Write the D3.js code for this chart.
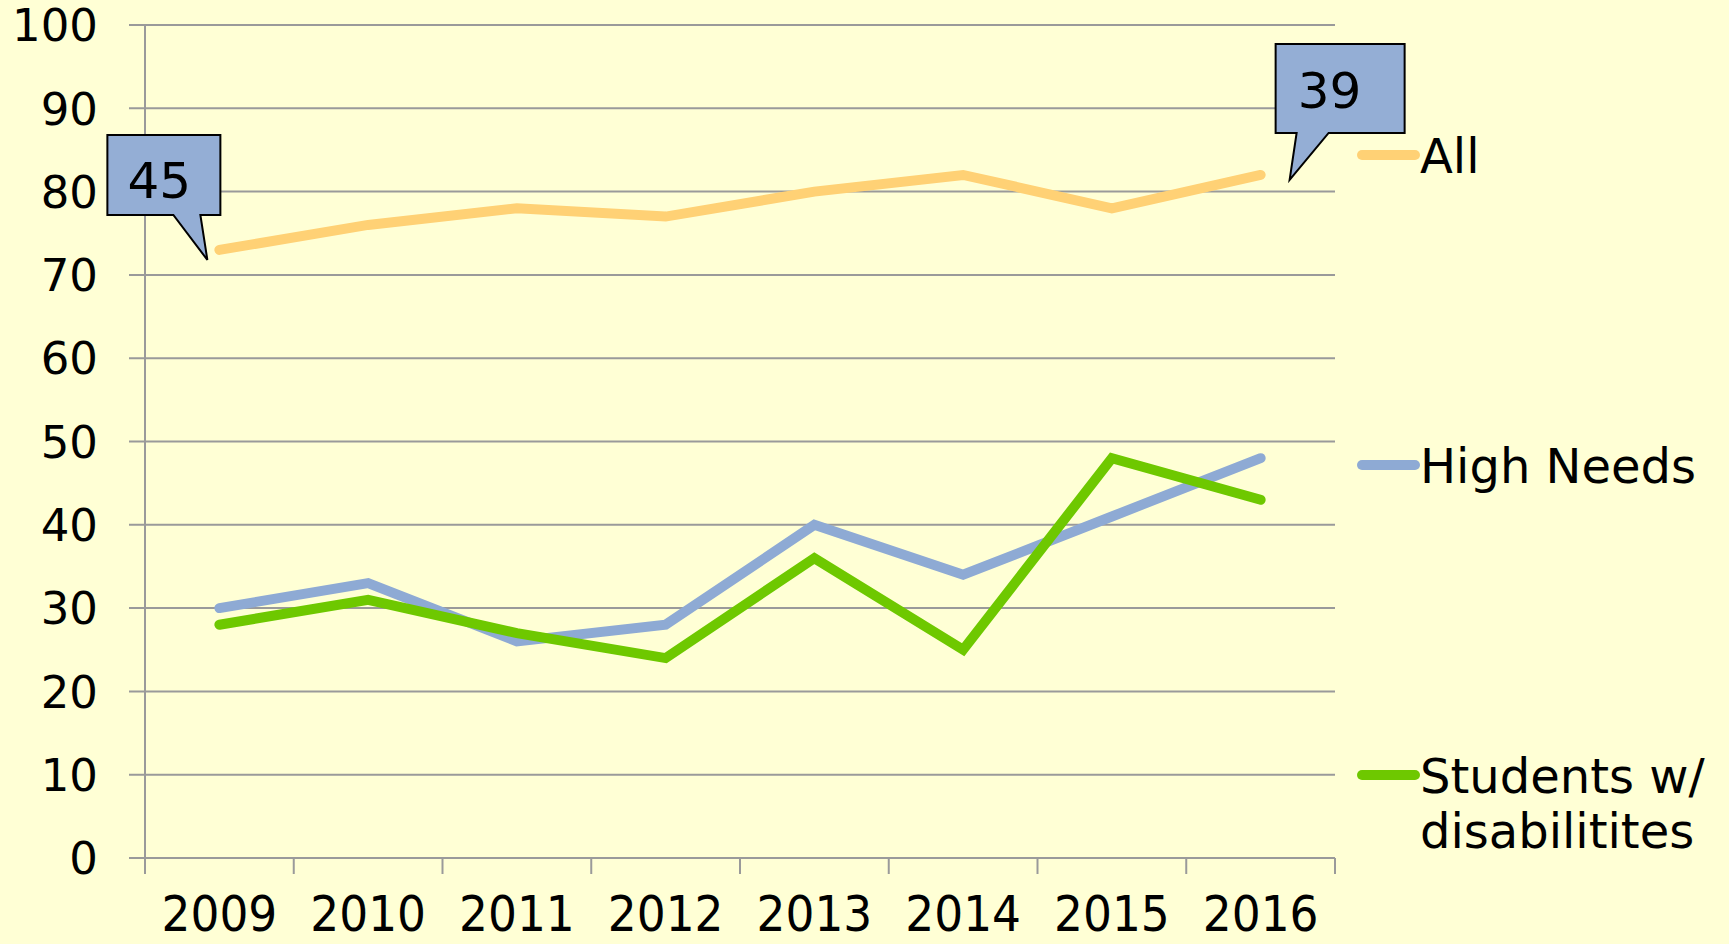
<!DOCTYPE html>
<html>
<head>
<meta charset="utf-8">
<script src="https://cdn.jsdelivr.net/npm/d3@7"></script>
<style>
  html, body { margin: 0; padding: 0; background: #ffffd5; }
  svg { display: block; font-family: "DejaVu Sans", Verdana, sans-serif; }
  .grid-line { stroke: #9a9a9a; stroke-width: 2; }
  .axis-line { stroke: #9a9a9a; stroke-width: 2; }
  .y-label { font-size: 45px; fill: #000; }
  .x-label { font-size: 50px; fill: #000; }
  .legend-text { font-size: 48px; fill: #000; }
  .series-line { fill: none; stroke-width: 10; stroke-linejoin: miter; stroke-linecap: round; }
  .callout { fill: #94aed5; stroke: #000; stroke-width: 2; stroke-linejoin: miter; }
  .callout-text { font-size: 50px; fill: #000; }
</style>
</head>
<body>
<div id="chart"></div>
<script>
var years = ["2009","2010","2011","2012","2013","2014","2015","2016"]
var allValues = [73, 76, 78, 77, 80, 82, 78, 82]
var highNeedsValues = [30, 33, 26, 28, 40, 34, 41, 48]
var swdValues = [28, 31, 27, 24, 36, 25, 48, 43]
var seriesNames = ["All", "High Needs", "Students w/\ndisabilitites"]
var yTicks = [0, 10, 20, 30, 40, 50, 60, 70, 80, 90, 100]
var calloutYears = ["2009", "2016"]
var calloutTexts = ["45", "39"]

var width = 1729
var height = 944
var colors = ["#ffd175", "#8eaad4", "#6ec800"]

var svg = d3.select("#chart").append("svg")
  .attr("width", width)
  .attr("height", height)

svg.append("rect")
  .attr("width", width)
  .attr("height", height)
  .attr("fill", "#ffffd5")

var xScale = d3.scaleBand()
  .domain(years)
  .range([145, 1335])
var yScale = d3.scaleLinear()
  .domain([0, 100])
  .range([858, 25])

function xCenter(year) {
  return xScale(year) + xScale.bandwidth() / 2
}

/* horizontal grid */
svg.selectAll(".grid-line")
  .data(yTicks)
  .enter()
  .append("line")
  .attr("class", "grid-line")
  .attr("x1", 129)
  .attr("x2", 1335)
  .attr("y1", function(d) { return yScale(d) })
  .attr("y2", function(d) { return yScale(d) })

svg.selectAll(".y-label")
  .data(yTicks)
  .enter()
  .append("text")
  .attr("class", "y-label")
  .attr("x", 98)
  .attr("y", function(d) { return yScale(d) })
  .attr("dy", "0.36em")
  .attr("text-anchor", "end")
  .text(function(d) { return d })

/* axes */
svg.append("line")
  .attr("class", "axis-line")
  .attr("x1", 145).attr("x2", 145)
  .attr("y1", yScale(100)).attr("y2", yScale(0) + 16)

var xTickPos = years.map(function(d) { return xScale(d) + xScale.bandwidth() })
svg.selectAll(".x-tick")
  .data(xTickPos)
  .enter()
  .append("line")
  .attr("class", "axis-line x-tick")
  .attr("x1", function(d) { return d })
  .attr("x2", function(d) { return d })
  .attr("y1", yScale(0))
  .attr("y2", yScale(0) + 16)

svg.selectAll(".x-label")
  .data(years)
  .enter()
  .append("text")
  .attr("class", "x-label")
  .attr("text-anchor", "middle")
  .attr("transform", function(d) { return "translate(" + xCenter(d) + ",931) scale(0.91,1)" })
  .text(function(d) { return d })

/* lines */
var line = d3.line()
  .x(function(d, i) { return xCenter(years[i]) })
  .y(function(d) { return yScale(d) })

var seriesData = [allValues, highNeedsValues, swdValues]
var drawOrder = [0, 1, 2]
drawOrder.forEach(function(k) {
  svg.append("path")
    .attr("class", "series-line")
    .attr("stroke", colors[k])
    .attr("d", line(seriesData[k]))
})

/* legend */
var legendY = [155, 465, 775]
seriesNames.forEach(function(name, k) {
  svg.append("line")
    .attr("x1", 1362).attr("x2", 1415)
    .attr("y1", legendY[k]).attr("y2", legendY[k])
    .attr("stroke", colors[k])
    .attr("stroke-width", 10)
    .attr("stroke-linecap", "round")
  var txt = svg.append("text")
    .attr("class", "legend-text")
    .attr("x", 1420)
    .attr("y", legendY[k] + 18)
  name.split("\n").forEach(function(part, j) {
    txt.append("tspan")
      .attr("x", 1420)
      .attr("dy", j === 0 ? 0 : 55)
      .text(part)
  })
})

/* callouts */
var calloutShapes = [
  { tipDx: -12, tipDy: 10, left: -112, right: 1, top: -115, bottom: -35, baseA: -46, baseB: -19, textDx: -92, textDy: -52 },
  { tipDx: 29, tipDy: 5, left: 15, right: 144, top: -131, bottom: -42, baseA: 36, baseB: 68, textDx: 37, textDy: -67 }
]
calloutYears.forEach(function(yr, k) {
  var i = years.indexOf(yr)
  var px = xCenter(yr)
  var py = yScale(allValues[i])
  var s = calloutShapes[k]
  var tipX = px + s.tipDx
  var tipY = py + s.tipDy
  var path = d3.path()
  path.moveTo(px + s.left, py + s.top)
  path.lineTo(px + s.right, py + s.top)
  path.lineTo(px + s.right, py + s.bottom)
  path.lineTo(px + s.baseB, py + s.bottom)
  path.lineTo(tipX, tipY)
  path.lineTo(px + s.baseA, py + s.bottom)
  path.lineTo(px + s.left, py + s.bottom)
  path.closePath()
  svg.append("path")
    .attr("class", "callout")
    .attr("d", path.toString())
  svg.append("text")
    .attr("class", "callout-text")
    .attr("x", px + s.textDx)
    .attr("y", py + s.textDy)
    .text(calloutTexts[k])
})
</script>
</body>
</html>
